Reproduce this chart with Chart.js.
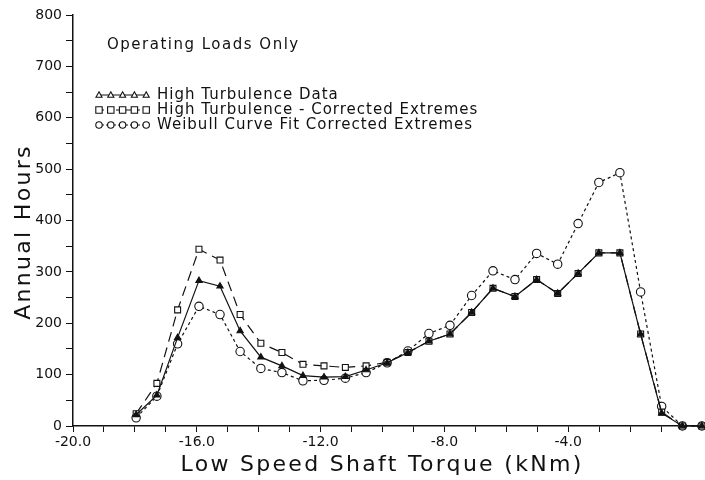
<!DOCTYPE html>
<html><head><meta charset="utf-8">
<script src="https://cdn.jsdelivr.net/npm/chart.js@4.4.0/dist/chart.umd.min.js"></script>
<style>html,body{margin:0;padding:0;background:#fff;overflow:hidden}canvas{display:block}</style>
</head><body>
<canvas id="c" width="705" height="480"></canvas>
<script>
// Low speed shaft torque bin centres (kNm)
const torque = [-17.96, -17.29, -16.62, -15.93, -15.25, -14.60, -13.93, -13.25, -12.57, -11.89, -11.20, -10.53, -9.85, -9.18, -8.50, -7.82, -7.12, -6.43, -5.72, -5.02, -4.34, -3.68, -3.01, -2.33, -1.66, -0.98, -0.31, 0.32];
// Annual hours
const highTurbulenceData = [22, 60, 172, 283, 272, 185, 134, 117, 98, 95, 96, 109, 123, 143, 165, 179, 221, 268, 252, 285, 258, 297, 337, 337, 179, 25, 0, 0];
const correctedExtremes = [24, 83, 226, 344, 323, 217, 161, 143, 120, 117, 114, 117, 124, 143, 165, 179, 221, 268, 252, 285, 258, 297, 337, 337, 179, 27, 0, 0];
const weibullFit = [16, 58, 160, 233, 217, 145, 112, 104, 88, 89, 93, 104, 123, 146, 180, 196, 254, 302, 285, 336, 315, 394, 474, 493, 261, 38, 0, 0];
const xMajorTicks = [-20, -16, -12, -8, -4, 0];
const seriesNames = ["High Turbulence Data", "High Turbulence - Corrected Extremes", "Weibull Curve Fit Corrected Extremes"];
const noteText = "Operating Loads Only";
const xTitle = "Low Speed Shaft Torque (kNm)";
const yTitle = "Annual Hours";

const FONT = "'DejaVu Sans', sans-serif";
const INK = '#111';

function pts(arr){ return torque.map((x,i)=>({x:x, y:arr[i]})); }

function drawMarker(ctx, style, x, y, r){
  ctx.save();
  ctx.setLineDash([]);
  ctx.lineWidth = 1.1;
  ctx.strokeStyle = INK;
  ctx.beginPath();
  if (style === 'triangle'){
    ctx.moveTo(x, y - r); ctx.lineTo(x + r*0.95, y + r*0.7); ctx.lineTo(x - r*0.95, y + r*0.7); ctx.closePath();
    ctx.fillStyle = '#fff'; ctx.fill(); ctx.stroke();
  } else if (style === 'rect'){
    ctx.rect(x - r, y - r, 2*r, 2*r); ctx.fillStyle = '#fff'; ctx.fill(); ctx.stroke();
  } else {
    ctx.arc(x, y, r, 0, Math.PI*2); ctx.fillStyle = '#fff'; ctx.fill(); ctx.stroke();
  }
  ctx.restore();
}

const annot = {
  id: 'annot',
  afterDraw(chart){
    const ctx = chart.ctx;
    ctx.save();
    ctx.fillStyle = INK;
    ctx.textBaseline = 'middle';
    ctx.textAlign = 'left';
    if ('letterSpacing' in ctx) ctx.letterSpacing = '1.5px';
    ctx.font = '15px ' + FONT;
    ctx.fillText(noteText, 107, 45);
    if ('letterSpacing' in ctx) ctx.letterSpacing = '1px';
    // legend
    const styles = [['triangle', []], ['rect', [6,3]], ['circle', [2,2]]];
    const ys = [95, 110, 125];
    for (let k=0;k<3;k++){
      const y = ys[k];
      ctx.save();
      ctx.strokeStyle = INK; ctx.lineWidth = 1; ctx.setLineDash(styles[k][1]);
      ctx.beginPath(); ctx.moveTo(98, y); ctx.lineTo(148, y); ctx.stroke();
      ctx.restore();
      for (let m=0;m<5;m++) drawMarker(ctx, styles[k][0], 99 + m*11.8, y, 3.2);
      ctx.fillText(seriesNames[k], 157, y);
    }
    // axis titles
    if ('letterSpacing' in ctx) ctx.letterSpacing = '2.3px';
    ctx.font = '22px ' + FONT;
    ctx.textAlign = 'center';
    ctx.fillText(xTitle, 382, 465);
    ctx.save();
    ctx.translate(24, 232);
    ctx.rotate(-Math.PI/2);
    ctx.fillText(yTitle, 0, 0);
    ctx.restore();
    ctx.restore();
  }
};

const common = {showLine:true, tension:0, borderColor:INK, borderWidth:1.2, pointBorderColor:INK, pointBorderWidth:1.1, pointBackgroundColor:'#fff', clip:false, fill:false};

new Chart(document.getElementById('c'), {
  type: 'scatter',
  data: { datasets: [
    Object.assign({}, common, {label: seriesNames[0], data: pts(highTurbulenceData), pointStyle:'triangle', pointRadius:3.6, pointBackgroundColor:INK, order:0}),
    Object.assign({}, common, {label: seriesNames[1], data: pts(correctedExtremes), pointStyle:'rect', pointRadius:4.2, borderDash:[10,6], order:1}),
    Object.assign({}, common, {label: seriesNames[2], data: pts(weibullFit), pointStyle:'circle', pointRadius:4.2, borderDash:[3,3], order:2})
  ]},
  options: {
    responsive: false, animation: false, devicePixelRatio: 1,
    layout: {autoPadding: false, padding: {top: 15, right: 0, left: 0, bottom: 0}},
    plugins: {legend: {display:false}, tooltip: {enabled:false}},
    scales: {
      x: {
        type: 'linear', min: -20, max: 0.42,
        afterBuildTicks: s => { s.ticks = s.ticks.filter(t => Math.abs(t.value - Math.round(t.value)) < 1e-6); },
        afterFit: s => { s.height = 54; s.paddingLeft = 0; s.paddingRight = 0; },
        ticks: {stepSize: 1, autoSkip: false, maxRotation: 0, color: INK, padding: 2,
          font: {family: FONT, size: 14},
          callback: v => { const r = Math.round(v); return xMajorTicks.includes(r) ? (r === 0 ? '0.0' : r.toFixed(1)) : ''; }},
        grid: {drawOnChartArea: false, drawTicks: true, tickLength: 6, color: INK, lineWidth: 1},
        border: {display: true, color: INK, width: 1.5}
      },
      y: {
        min: 0, max: 800,
        afterFit: s => { s.width = 73; s.paddingTop = 0; s.paddingBottom = 0; },
        ticks: {stepSize: 50, color: INK, padding: 4, font: {family: FONT, size: 14},
          callback: v => (v % 100 === 0 ? String(v) : '')},
        grid: {drawOnChartArea: false, drawTicks: true, tickLength: 7, color: INK, lineWidth: 1},
        border: {display: true, color: INK, width: 1.5}
      }
    }
  },
  plugins: [annot]
});
</script>
</body></html>
